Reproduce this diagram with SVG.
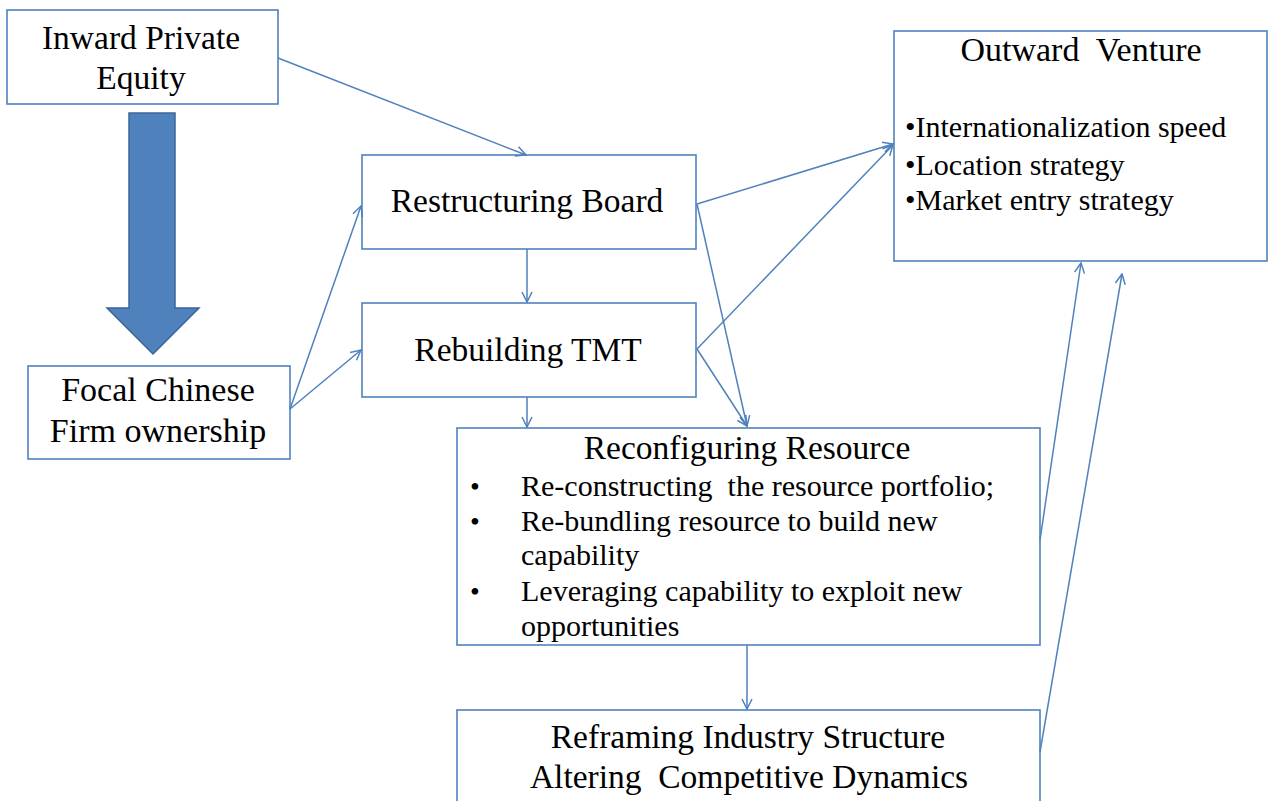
<svg xmlns="http://www.w3.org/2000/svg" width="1269" height="801" viewBox="0 0 1269 801">
<style>
.box{fill:#fff;stroke:#4F81BD;stroke-width:1.6}
.t{font-family:"Liberation Serif","Times New Roman",serif;fill:#000}
.c{stroke:#4F81BD;stroke-width:1.5;fill:none;marker-end:url(#ah)}
</style>
<defs>
<marker id="ah" viewBox="0 0 12 12" refX="11" refY="6" markerWidth="12" markerHeight="12" markerUnits="userSpaceOnUse" orient="auto">
<path d="M1,1 L11,6 L1,11" fill="none" stroke="#4F81BD" stroke-width="1.5"/>
</marker>
</defs>
<rect width="1269" height="801" fill="#fff"/>
<g id="bigArrow">
<path d="M129,113 H175 V308 H199 L153,354 L107,308 H129 Z" fill="#4F81BD" stroke="#3A6599" stroke-width="1.5"/>
</g>
<g id="inward">
<rect class="box" x="7" y="10" width="271" height="94"/>
<text class="t" font-size="33.5" text-anchor="middle" x="141" y="49">Inward Private</text>
<text class="t" font-size="33.5" text-anchor="middle" x="141" y="89">Equity</text>
</g>
<g id="focal">
<rect class="box" x="28" y="366" width="262" height="93"/>
<text class="t" font-size="34" text-anchor="middle" x="158" y="401">Focal Chinese</text>
<text class="t" font-size="34" text-anchor="middle" x="158" y="442">Firm ownership</text>
</g>
<g id="restructuring">
<rect class="box" x="362" y="155" width="334" height="94"/>
<text class="t" font-size="33.5" text-anchor="middle" x="527" y="212">Restructuring Board</text>
</g>
<g id="rebuilding">
<rect class="box" x="362" y="303" width="334" height="94"/>
<text class="t" font-size="33.5" text-anchor="middle" x="528" y="361">Rebuilding TMT</text>
</g>
<g id="outward">
<rect class="box" x="894" y="31" width="373" height="230"/>
<text class="t" font-size="34" text-anchor="middle" x="1081" y="61" xml:space="preserve">Outward  Venture</text>
<text class="t" font-size="30" x="905" y="137">•Internationalization speed</text>
<text class="t" font-size="30" x="905" y="175">•Location strategy</text>
<text class="t" font-size="30" x="905" y="210">•Market entry strategy</text>
</g>
<g id="reconfiguring">
<rect class="box" x="457" y="428" width="583" height="217"/>
<text class="t" font-size="33.5" text-anchor="middle" x="747" y="459">Reconfiguring Resource</text>
<text class="t" font-size="28" x="470" y="496">•</text>
<text class="t" font-size="30" x="521" y="496" xml:space="preserve">Re-constructing  the resource portfolio;</text>
<text class="t" font-size="28" x="470" y="531">•</text>
<text class="t" font-size="30" x="521" y="531">Re-bundling resource to build new</text>
<text class="t" font-size="30" x="521" y="565">capability</text>
<text class="t" font-size="28" x="470" y="601">•</text>
<text class="t" font-size="30" x="521" y="601">Leveraging capability to exploit new</text>
<text class="t" font-size="30" x="521" y="636">opportunities</text>
</g>
<g id="reframing">
<rect class="box" x="457" y="710" width="583" height="100"/>
<text class="t" font-size="33.5" text-anchor="middle" x="748" y="748">Reframing Industry Structure</text>
<text class="t" font-size="33.5" text-anchor="middle" x="749" y="788" xml:space="preserve">Altering  Competitive Dynamics</text>
</g>
<g id="connectors">
<line class="c" x1="278" y1="58" x2="526" y2="155"/>
<line class="c" x1="290" y1="409" x2="361" y2="206"/>
<line class="c" x1="290" y1="409" x2="361" y2="350"/>
<line class="c" x1="527" y1="249" x2="527" y2="302"/>
<line class="c" x1="527" y1="397" x2="527" y2="427"/>
<line class="c" x1="697" y1="204" x2="893" y2="144"/>
<line class="c" x1="697" y1="204" x2="747" y2="426"/>
<line class="c" x1="697" y1="349" x2="893" y2="145"/>
<line class="c" x1="697" y1="349" x2="747" y2="426"/>
<line class="c" x1="747" y1="645" x2="747" y2="709"/>
<line class="c" x1="1040" y1="540" x2="1081" y2="263"/>
<line class="c" x1="1040" y1="752" x2="1122" y2="274"/>
</g>
</svg>
